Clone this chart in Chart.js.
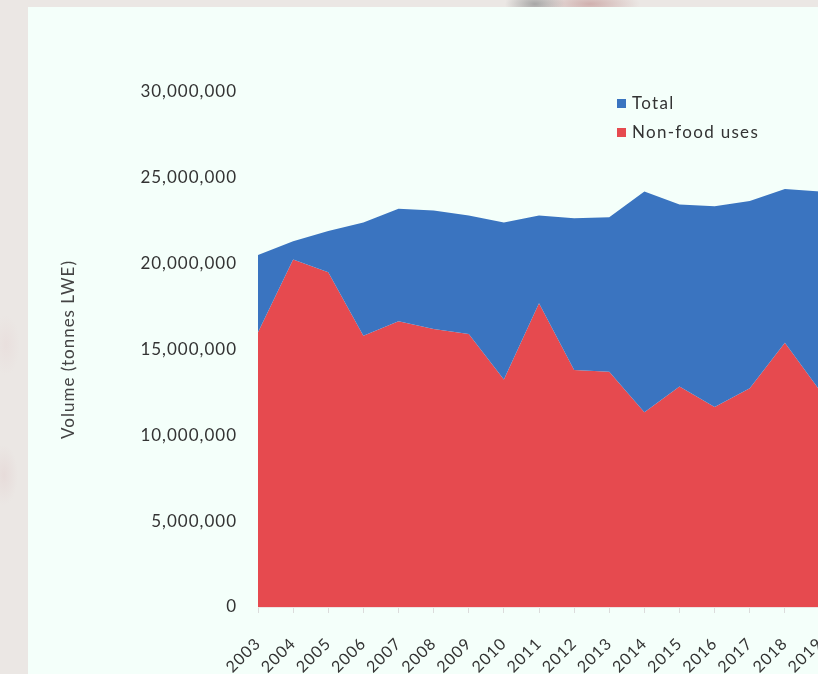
<!DOCTYPE html>
<html>
<head>
<meta charset="utf-8">
<title>Non-food uses vs total volume</title>
<script src="https://cdn.jsdelivr.net/npm/chart.js@4.4.1/dist/chart.umd.min.js"></script>
<style>
  html, body {
    margin: 0;
    width: 818px;
    height: 674px;
    overflow: hidden;
  }
  body {
    position: relative;
    background:
      radial-gradient(ellipse 30px 14px at 535px 4px, rgba(150,150,150,0.8), rgba(150,150,150,0) 100%),
      radial-gradient(ellipse 50px 14px at 590px 4px, rgba(205,170,168,0.9), rgba(205,170,168,0) 100%),
      radial-gradient(ellipse 14px 30px at 4px 475px, rgba(225,205,205,0.45), rgba(225,205,205,0) 100%),
      radial-gradient(ellipse 14px 30px at 6px 345px, rgba(230,212,212,0.4), rgba(230,212,212,0) 100%),
      #ebe7e4;
    font-family: Lato, "Noto Sans", sans-serif;
  }
  .panel {
    position: absolute;
    left: 28px;
    top: 7px;
    width: 830px;
    height: 700px;
    background: #f4fffa;
  }
  #chart {
    position: absolute;
    left: 28px;
    top: 7px;
  }
  .legend {
    position: absolute;
    left: 617px;
    top: 92px;
    color: #333;
    font-size: 17px;
    letter-spacing: 1.3px;
  }
  .legend div {
    height: 29px;
    line-height: 21px;
    white-space: nowrap;
  }
  .legend span {
    display: inline-block;
    width: 9px;
    height: 9px;
    margin-right: 6px;
    vertical-align: 1px;
  }
</style>
</head>
<body>
<div class="panel"></div>
<canvas id="chart" width="840" height="667"></canvas>
<div class="legend" id="legend"></div>

<script>
const years = ['2003', '2004', '2005', '2006', '2007', '2008', '2009', '2010', '2011',
  '2012', '2013', '2014', '2015', '2016', '2017', '2018', '2019'];

// tonnes live weight equivalent
const totalVolume = [20500000, 21300000, 21900000, 22400000, 23200000, 23100000, 22800000,
  22400000, 22800000, 22650000, 22700000, 24200000, 23450000, 23350000, 23650000,
  24350000, 24200000];
const nonFoodVolume = [16000000, 20250000, 19500000, 15800000, 16650000, 16200000, 15900000,
  13250000, 17700000, 13800000, 13700000, 11350000, 12850000, 11650000, 12750000,
  15400000, 12600000];

const seriesNames = ['Total', 'Non-food uses'];
const seriesColors = ['#3a74c0', '#e64a4f'];

const yTicks = [0, 5000000, 10000000, 15000000, 20000000, 25000000, 30000000];

// wider spacing on canvas text, closer to the site font
const spacing = {
  id: 'spacing',
  beforeUpdate(chart) { chart.ctx.letterSpacing = '1px'; },
  beforeDraw(chart) { chart.ctx.letterSpacing = '1px'; }
};

new Chart(document.getElementById('chart'), {
  type: 'line',
  data: {
    labels: years,
    datasets: [
      {
        label: seriesNames[0],
        data: totalVolume,
        backgroundColor: seriesColors[0],
        borderColor: seriesColors[0],
        borderWidth: 0,
        pointRadius: 0,
        fill: '+1'
      },
      {
        label: seriesNames[1],
        data: nonFoodVolume,
        backgroundColor: seriesColors[1],
        borderColor: seriesColors[1],
        borderWidth: 0,
        pointRadius: 0,
        fill: 'origin'
      }
    ]
  },
  options: {
    responsive: false,
    animation: false,
    layout: { padding: { top: 85, left: 0, right: 48, bottom: 0 } },
    plugins: {
      legend: { display: false },
      tooltip: { enabled: false }
    },
    scales: {
      x: {
        grid: {
          drawOnChartArea: false,
          drawTicks: true,
          tickLength: 6,
          color: '#dcdcdc'
        },
        border: { color: 'rgba(235,220,220,0.8)' },
        ticks: {
          autoSkip: false,
          minRotation: 45,
          maxRotation: 45,
          padding: 21,
          color: '#333',
          font: { family: 'Lato', size: 16 }
        },
        afterFit(scale) { scale.height = 67; }
      },
      y: {
        min: 0,
        max: 30000000,
        afterBuildTicks(scale) { scale.ticks = yTicks.map(v => ({ value: v })); },
        grid: { display: false, drawTicks: false },
        border: { display: false },
        ticks: {
          padding: 21,
          color: '#333',
          font: { family: 'Lato', size: 17 },
          callback: v => v.toLocaleString('en-US')
        },
        title: {
          display: true,
          text: 'Volume (tonnes LWE)',
          color: '#444',
          font: { family: 'Lato', size: 17 },
          padding: { top: 30, bottom: 0 }
        },
        afterFit(scale) { scale.width = 230; }
      }
    }
  },
  plugins: [spacing]
});

const legend = document.getElementById('legend');
seriesNames.forEach((name, i) => {
  const row = document.createElement('div');
  const box = document.createElement('span');
  box.style.background = seriesColors[i];
  row.appendChild(box);
  row.appendChild(document.createTextNode(name));
  legend.appendChild(row);
});
</script>
</body>
</html>
